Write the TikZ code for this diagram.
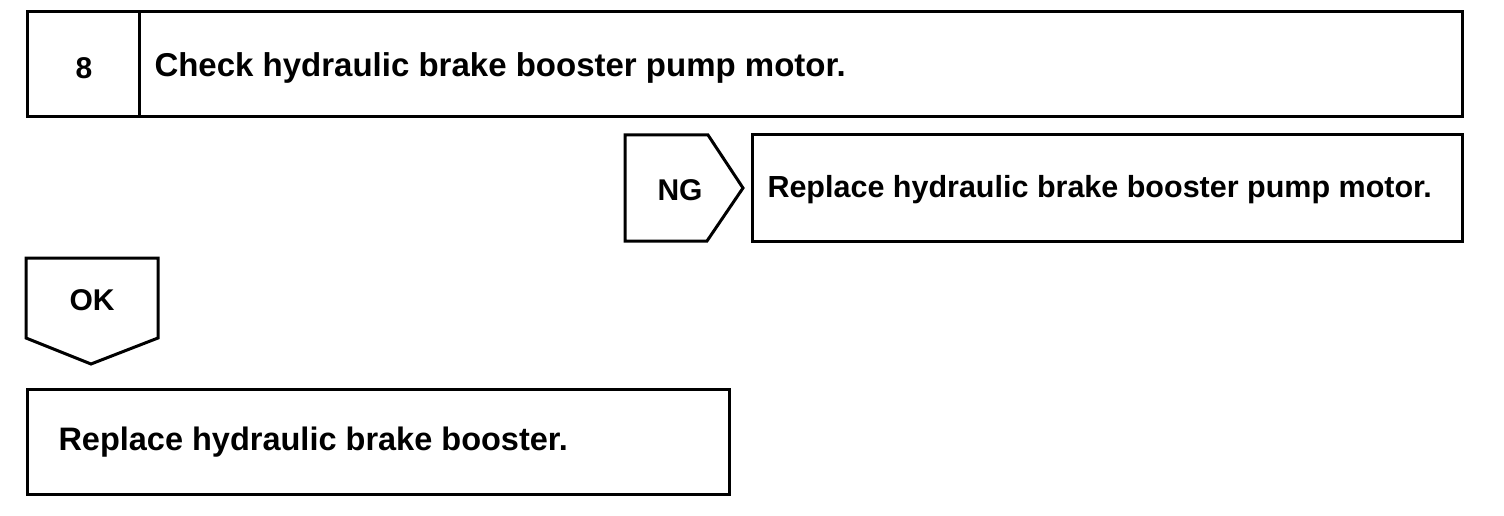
\documentclass[tikz,border=0pt]{standalone}
\usepackage{fontspec}
\setmainfont{Liberation Sans}
\begin{document}
\begin{tikzpicture}[x=1pt, y=-1pt, line width=3pt,
    txt/.style={font=\bfseries\fontsize{33}{36}\selectfont, inner sep=0pt}]
                \useasboundingbox (0, 0) rectangle (1504, 516);

                % Boîte de l'étape 8
                \draw (27, 12) rectangle (1462, 117);
                \draw (139, 12) -- (139, 117);
                \node[txt, font=\bfseries\fontsize{30}{33}\selectfont] (num) at (84, 68) {8};
                \node[txt, anchor=west] (check) at (153, 68) {Check hydraulic brake booster pump motor.};

                % Branche NG
                \draw (625, 135) -- (708, 135) -- (743, 188) -- (707, 241) -- (625, 241) -- cycle;
                \node[txt, font=\bfseries\fontsize{30}{33}\selectfont] (ng) at (680, 190) {NG};
                \draw (752, 135) rectangle (1462, 241);
                \node[txt, anchor=west, font=\bfseries\fontsize{30.5}{33}\selectfont] (pump) at (766, 190) {Replace hydraulic brake booster pump motor.};

                % Branche OK
                \draw (26, 258) -- (158, 258) -- (158, 338) -- (91, 364) -- (26, 338) -- cycle;
                \node[txt, font=\bfseries\fontsize{30}{33}\selectfont] (ok) at (92, 300) {OK};
                \draw (27, 389) rectangle (729, 494);
                \node[txt, anchor=west, font=\bfseries\fontsize{32.5}{35}\selectfont] (booster) at (57, 442) {Replace hydraulic brake booster.};
            \end{tikzpicture}
\end{document}
